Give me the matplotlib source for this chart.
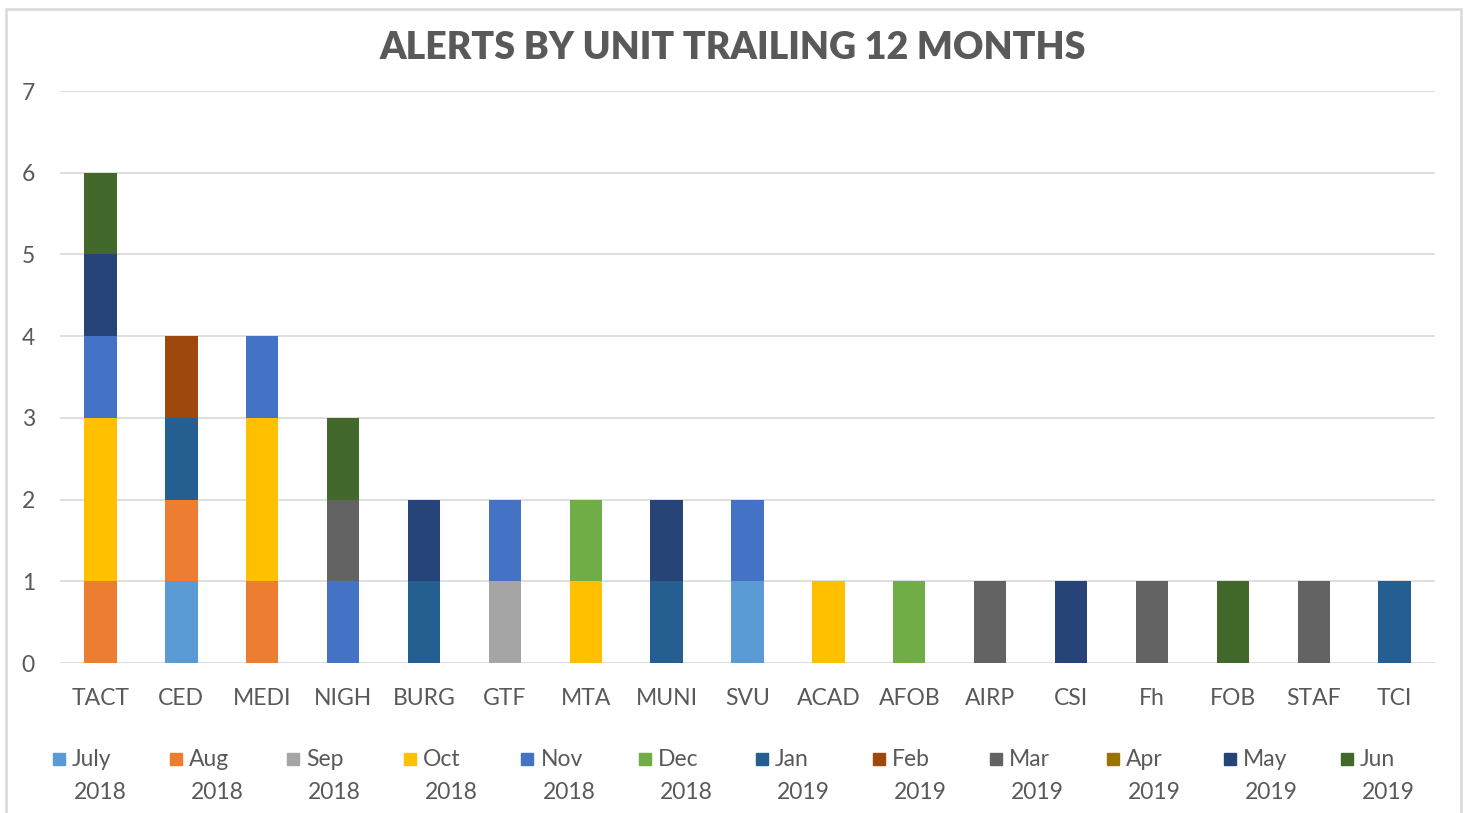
import numpy as np
import matplotlib.pyplot as plt
from matplotlib.patches import Rectangle

plt.rcParams['font.family'] = ['Lato', 'DejaVu Sans']

units = ['TACT', 'CED', 'MEDI', 'NIGH', 'BURG', 'GTF', 'MTA', 'MUNI', 'SVU',
         'ACAD', 'AFOB', 'AIRP', 'CSI', 'Fh', 'FOB', 'STAF', 'TCI']

months = ['July', 'Aug', 'Sep', 'Oct', 'Nov', 'Dec',
          'Jan', 'Feb', 'Mar', 'Apr', 'May', 'Jun']
years = ['2018'] * 6 + ['2019'] * 6

#            TACT CED MEDI NIGH BURG GTF MTA MUNI SVU ACAD AFOB AIRP CSI Fh FOB STAF TCI
jul_2018 = [0, 1, 0, 0, 0, 0, 0, 0, 1, 0, 0, 0, 0, 0, 0, 0, 0]
aug_2018 = [1, 1, 1, 0, 0, 0, 0, 0, 0, 0, 0, 0, 0, 0, 0, 0, 0]
sep_2018 = [0, 0, 0, 0, 0, 1, 0, 0, 0, 0, 0, 0, 0, 0, 0, 0, 0]
oct_2018 = [2, 0, 2, 0, 0, 0, 1, 0, 0, 1, 0, 0, 0, 0, 0, 0, 0]
nov_2018 = [1, 0, 1, 1, 0, 1, 0, 0, 1, 0, 0, 0, 0, 0, 0, 0, 0]
dec_2018 = [0, 0, 0, 0, 0, 0, 1, 0, 0, 0, 1, 0, 0, 0, 0, 0, 0]
jan_2019 = [0, 1, 0, 0, 1, 0, 0, 1, 0, 0, 0, 0, 0, 0, 0, 0, 1]
feb_2019 = [0, 1, 0, 0, 0, 0, 0, 0, 0, 0, 0, 0, 0, 0, 0, 0, 0]
mar_2019 = [0, 0, 0, 1, 0, 0, 0, 0, 0, 0, 0, 1, 0, 1, 0, 1, 0]
apr_2019 = [0, 0, 0, 0, 0, 0, 0, 0, 0, 0, 0, 0, 0, 0, 0, 0, 0]
may_2019 = [1, 0, 0, 0, 1, 0, 0, 1, 0, 0, 0, 0, 1, 0, 0, 0, 0]
jun_2019 = [1, 0, 0, 1, 0, 0, 0, 0, 0, 0, 0, 0, 0, 0, 1, 0, 0]

series = [jul_2018, aug_2018, sep_2018, oct_2018, nov_2018, dec_2018,
          jan_2019, feb_2019, mar_2019, apr_2019, may_2019, jun_2019]

colors = ['#5B9BD5', '#ED7D31', '#A5A5A5', '#FFC000', '#4472C4', '#70AD47',
          '#255E91', '#9E480E', '#636363', '#997300', '#264478', '#43682B']

text_color = '#595959'

fig = plt.figure(figsize=(14.68, 8.13), dpi=100)
ax = fig.add_axes([60 / 1468, 1 - 663 / 813, 1375 / 1468, 572 / 813])

x = np.arange(len(units))
bottom = np.zeros(len(units))
for vals, col in zip(series, colors):
    vals = np.array(vals, dtype=float)
    ax.bar(x, vals, width=0.4, bottom=bottom, color=col, zorder=3)
    bottom += vals

ax.set_xlim(-0.5, len(units) - 0.5)
ax.set_ylim(0, 7)
ax.set_yticks(range(0, 8))
ax.set_xticks(x)
ax.set_xticklabels(units)
ax.tick_params(length=0, labelsize=16.5, colors=text_color)
ax.tick_params(axis='x', pad=18)
ax.tick_params(axis='y', pad=18)
ax.grid(axis='y', color='#d9d9d9', linewidth=1.2, zorder=0)
for s in ax.spines.values():
    s.set_visible(False)

fig.text(733 / 1468, 1 - 48 / 813, 'ALERTS BY UNIT TRAILING 12 MONTHS',
         ha='center', va='center', fontsize=27, fontweight='heavy', color=text_color)

# outer chart frame
frame = Rectangle((6 / 1468, -0.05), 1455 / 1468, 1.05 - 9 / 813,
                  transform=fig.transFigure, fill=False,
                  edgecolor='#d9d9d9', linewidth=1.8, clip_on=False)
fig.patches.append(frame)

# legend, two-line labels with marker next to first line
for i, (m, yr, col) in enumerate(zip(months, years, colors)):
    x0 = 53 + 117.1 * i
    fig.patches.append(Rectangle((x0 / 1468, 1 - 765 / 813), 12 / 1468, 12 / 813,
                                 transform=fig.transFigure, color=col))
    fig.text((x0 + 19) / 1468, 1 - 759 / 813, m, ha='left', va='center',
             fontsize=16.5, color=text_color)
    fig.text((x0 + 21) / 1468, 1 - 792 / 813, yr, ha='left', va='center',
             fontsize=16.5, color=text_color)

fig.savefig('out.png', dpi=100, facecolor='white')
